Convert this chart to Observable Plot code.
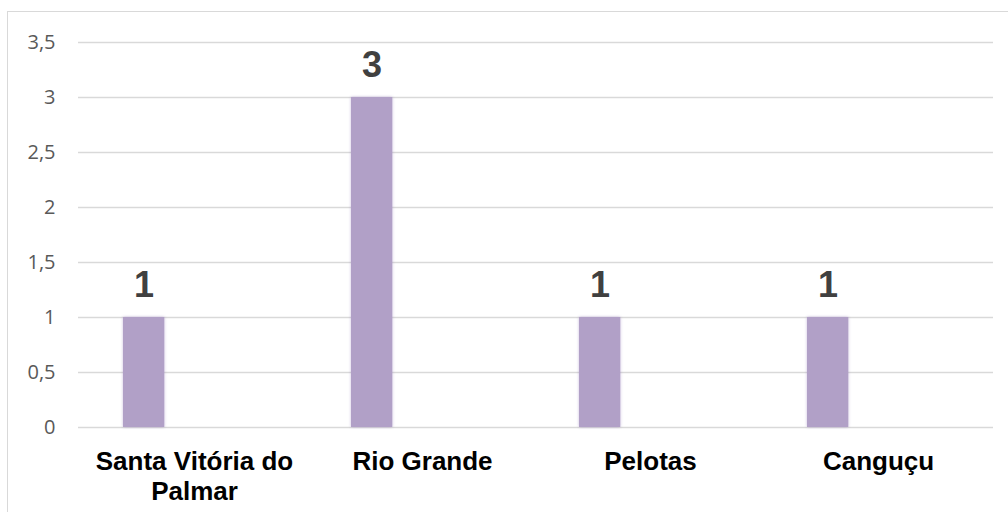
<!DOCTYPE html>
<html>
<head>
<meta charset="utf-8">
<script src="https://cdn.jsdelivr.net/npm/d3@7"></script>
<script src="https://cdn.jsdelivr.net/npm/@observablehq/plot@0.6"></script>
<style>
  html, body { margin: 0; padding: 0; background: #fff; }
  #wrap { position: relative; width: 1008px; height: 512px; overflow: hidden; }
  #border { position: absolute; left: 7px; top: 11px; width: 1100px; height: 600px;
            border-left: 1.6px solid #d9d9d9; border-top: 1.6px solid #d9d9d9; pointer-events: none; }
  .bars rect { filter: drop-shadow(0 0 1.5px rgba(140, 110, 180, 0.45)); }
</style>
</head>
<body>
<div id="wrap"><div id="border"></div></div>
<script>
const cities = ["Santa Vitória do Palmar", "Rio Grande", "Pelotas", "Canguçu"];
const values = [1, 3, 1, 1];
const yTicks = [0, 0.5, 1, 1.5, 2, 2.5, 3, 3.5];

const data = cities.map((city, i) => ({city, value: values[i]}));

const chart = Plot.plot({
  width: 1008,
  height: 512,
  marginTop: 42,
  marginBottom: 85,
  marginLeft: 78,
  marginRight: 15,
  style: {background: "transparent"},
  x: {domain: cities, padding: 0},
  y: {domain: [0, 3.5]},
  marks: [
    Plot.gridY(yTicks, {stroke: "#d9d9d9", strokeOpacity: 1, strokeWidth: 1.5}),
    Plot.barY(data, {x: "city", y: "value", fill: "#b1a0c7", insetLeft: 43, insetRight: 143.75, className: "bars"}),
    Plot.text(data, {
      x: "city", y: "value", text: d => String(d.value).replace(".", ","),
      dx: -50.4, dy: -32, fontSize: 36, fontWeight: "bold", fill: "#404040",
      fontFamily: "Liberation Sans, Arial, sans-serif"
    }),
    Plot.axisY(yTicks, {
      tickSize: 0, tickPadding: 23, fontSize: 20, fill: "#595959",
      fontFamily: "Open Sans, sans-serif", label: null,
      tickFormat: d => String(d).replace(".", ",")
    }),
    Plot.axisX({
      tickSize: 0, tickPadding: 21, fontSize: 26, fontWeight: "bold", fill: "#000",
      fontFamily: "Liberation Sans, Arial, sans-serif", label: null,
      lineWidth: 9, lineHeight: 1.15
    })
  ]
});
document.getElementById("wrap").prepend(chart);
</script>
</body>
</html>
